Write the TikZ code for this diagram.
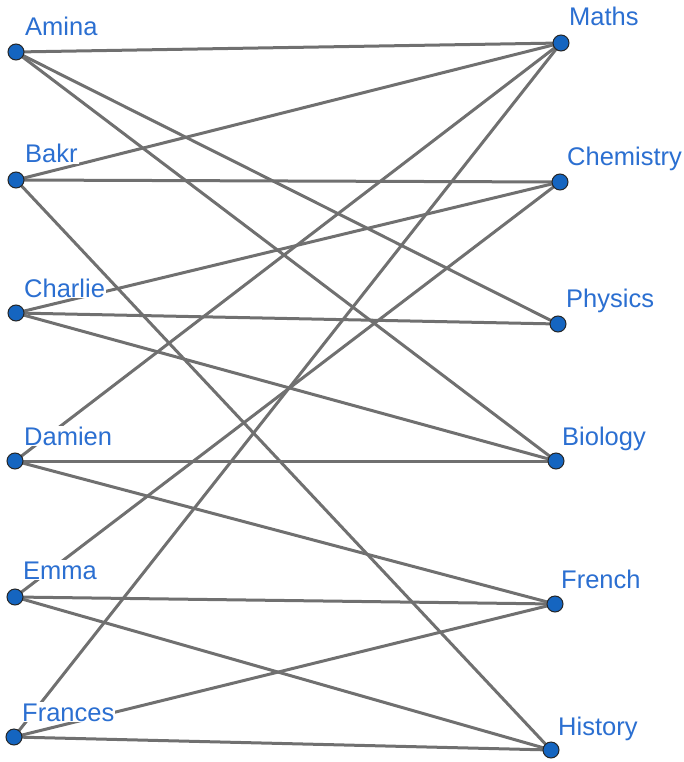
\documentclass[tikz,border=0pt]{standalone}
\usepackage{fontspec}
\setmainfont{Liberation Sans}
\usepackage{tikz}
\usetikzlibrary{backgrounds}
\definecolor{Dot}{HTML}{1565C0}
\definecolor{Ink}{HTML}{2B6FD1}
\definecolor{Wire}{HTML}{707070}
\tikzset{
  pupil/.style={circle,draw=black!85,line width=1pt,fill=Dot,minimum size=16pt,inner sep=0pt},
  subject/.style={pupil},
  tag/.style={anchor=base west,fill=white,inner sep=1pt,text=Ink,font=\fontsize{25.5}{29}\selectfont},
  wire/.style={draw=Wire,line width=3pt}
}
\begin{document}
\begin{tikzpicture}[x=1pt,y=-1pt]
  \useasboundingbox (0,0) rectangle (683,762);
  % pupils
  \node[pupil] (amina) at (16,52) {};
  \node[pupil] (bakr) at (16,180) {};
  \node[pupil] (charlie) at (16,313) {};
  \node[pupil] (damien) at (15,461) {};
  \node[pupil] (emma) at (15,597) {};
  \node[pupil] (frances) at (14,737) {};
  % subjects
  \node[subject] (maths) at (561,43) {};
  \node[subject] (chem) at (560,182) {};
  \node[subject] (phys) at (558,324) {};
  \node[subject] (bio) at (556,461) {};
  \node[subject] (french) at (555,604) {};
  \node[subject] (hist) at (551,750) {};
  % labels
  \node[tag] (amina-l) at ([shift={(8,-16)}]amina.center) {Amina};
  \node[tag] (bakr-l) at ([shift={(8,-17)}]bakr.center) {Bakr};
  \node[tag] (charlie-l) at ([shift={(7,-16)}]charlie.center) {Charlie};
  \node[tag] (damien-l) at ([shift={(8,-16)}]damien.center) {Damien};
  \node[tag] (emma-l) at ([shift={(7,-18)}]emma.center) {Emma};
  \node[tag] (frances-l) at ([shift={(7,-16)}]frances.center) {Frances};
  \node[tag] (maths-l) at ([shift={(7,-17)}]maths.center) {Maths};
  \node[tag] (chem-l) at ([shift={(6,-16)}]chem.center) {Chemistry};
  \node[tag] (phys-l) at ([shift={(7,-17)}]phys.center) {Physics};
  \node[tag] (bio-l) at ([shift={(5,-16)}]bio.center) {Biology};
  \node[tag] (french-l) at ([shift={(5,-16)}]french.center) {French};
  \node[tag] (hist-l) at ([shift={(6,-15)}]hist.center) {History};
  % choices
  \begin{scope}[on background layer]
    \draw[wire] (amina.center) -- (maths.center);
    \draw[wire] (amina.center) -- (phys.center);
    \draw[wire] (amina.center) -- (bio.center);
    \draw[wire] (bakr.center) -- (maths.center);
    \draw[wire] (bakr.center) -- (chem.center);
    \draw[wire] (bakr.center) -- (hist.center);
    \draw[wire] (charlie.center) -- (chem.center);
    \draw[wire] (charlie.center) -- (phys.center);
    \draw[wire] (charlie.center) -- (bio.center);
    \draw[wire] (damien.center) -- (maths.center);
    \draw[wire] (damien.center) -- (bio.center);
    \draw[wire] (damien.center) -- (french.center);
    \draw[wire] (emma.center) -- (chem.center);
    \draw[wire] (emma.center) -- (french.center);
    \draw[wire] (emma.center) -- (hist.center);
    \draw[wire] (frances.center) -- (maths.center);
    \draw[wire] (frances.center) -- (french.center);
    \draw[wire] (frances.center) -- (hist.center);
  \end{scope}
\end{tikzpicture}
\end{document}
